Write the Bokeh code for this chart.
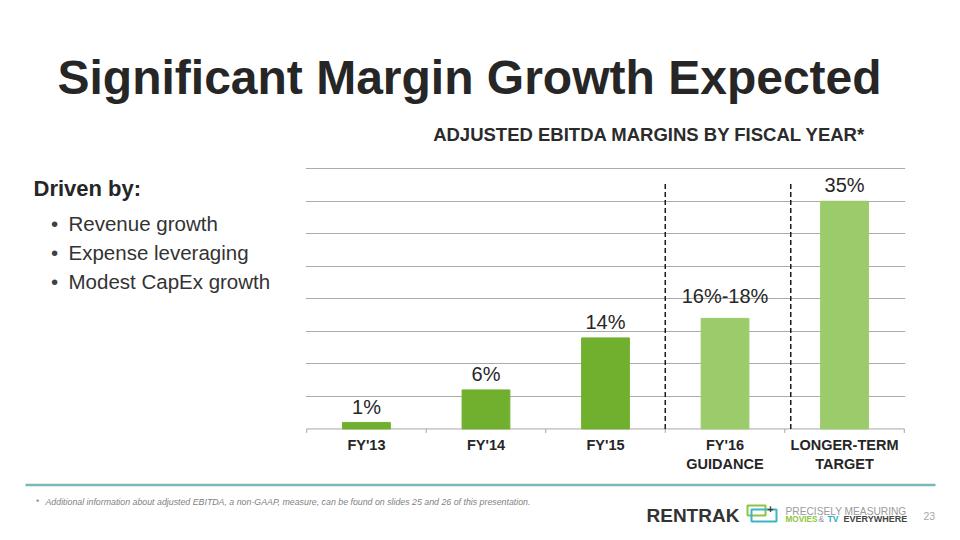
from bokeh.plotting import figure
from bokeh.layouts import column, row
from bokeh.models import (FactorRange, Range1d, CategoricalAxis, FixedTicker,
                          Grid, ColumnDataSource)
from bokeh.transform import dodge
from bokeh.core.properties import value
from bokeh.embed import file_html
from bokeh.resources import INLINE

# ---- data ----
categories = ["FY'13", "FY'14", "FY'15", "FY'16\nGUIDANCE", "LONGER-TERM\nTARGET"]
margin_low = [1, 6, 14, 16, 35]
margin_high = [1, 6, 14, 18, 35]
value_labels = ["1%", "6%", "14%", "16%-18%", "35%"]
is_actual = [True, True, True, False, False]
grid_ticks = [5, 10, 15, 20, 25, 30, 35, 40]
boundary_ticks = [0, 1, 2, 3, 4, 5]

title_text = "Significant Margin Growth Expected"
chart_title = "ADJUSTED EBITDA MARGINS BY FISCAL YEAR*"
drivers_head = "Driven by:"
drivers = ["Revenue growth", "Expense leveraging", "Modest CapEx growth"]
footnote = "Additional information about adjusted EBITDA, a non-GAAP, measure, can be found on slides 25 and 26 of this presentation."

DARK = "#71b02f"
LIGHT = "#9ccb6b"
TEXT = "#262626"
FONT = "Liberation Sans"

ROW_H = 330
CH_TOP, CH_BOT = 15, 47   # chart frame borders (the row aligns frames)


def blank(w, h, y_top=0, y_bot=None, b_top=0, b_bot=0):
    y_bot = h if y_bot is None else y_bot
    f = figure(width=w, height=h, output_backend="svg", toolbar_location=None,
               x_range=Range1d(0, w), y_range=Range1d(y_bot, y_top),
               x_axis_location=None, y_axis_location=None,
               min_border_left=0, min_border_right=0,
               min_border_top=b_top, min_border_bottom=b_bot)
    f.xgrid.visible = False
    f.ygrid.visible = False
    f.outline_line_color = None
    f.background_fill_color = "white"
    f.border_fill_color = "white"
    return f


def txt(f, text, x, y, size, style="normal", color=TEXT, align="left"):
    f.text(x=[x], y=[y], text=[text], text_font=value(FONT), text_font_size=size,
           text_font_style=style, text_color=color, text_align=align,
           text_baseline="middle")


# ---- top: slide title ----
top = blank(960, 150)
txt(top, title_text, 57, 77, "48px", "bold")
txt(top, chart_title, 649, 134, "18.5px", "bold", color="#2b2b2b", align="center")

# ---- left: drivers (frame aligned with chart frame in the row) ----
left = blank(298, ROW_H, y_top=CH_TOP, y_bot=ROW_H - CH_BOT, b_top=CH_TOP, b_bot=CH_BOT)
txt(left, drivers_head, 33, 38, "22px", "bold")
for i, d in enumerate(drivers):
    yc = 72.5 + 29 * i
    txt(left, "\u2022", 54, yc, "20.5px", color="#404040", align="center")
    txt(left, d, 68, yc, "20.5px", color="#333333")

# ---- chart ----
mid = [(a + b) / 2 for a, b in zip(margin_low, margin_high)]
colors = [DARK if a else LIGHT for a in is_actual]
src = ColumnDataSource(dict(cat=categories, top=mid, lab_y=margin_high,
                            lab=value_labels, color=colors))

p = figure(width=662, height=ROW_H, output_backend="svg", toolbar_location=None,
           x_range=FactorRange(*categories, range_padding=0.01,
                               range_padding_units="absolute"),
           y_range=Range1d(-0.7, 40.5),
           x_axis_location=None, y_axis_location=None,
           min_border_left=7, min_border_right=55, min_border_top=CH_TOP,
           min_border_bottom=CH_BOT)
p.outline_line_color = None
p.xgrid.visible = False
p.ygrid.visible = False
p.background_fill_color = "white"
p.border_fill_color = "white"

p.add_layout(Grid(dimension=1, ticker=FixedTicker(ticks=grid_ticks),
                  grid_line_color="#ababab", grid_line_width=1))

cat_axis = CategoricalAxis(axis_line_color=None, major_tick_line_color=None,
                           minor_tick_line_color=None, major_label_standoff=-3,
                           major_label_text_font=FONT, major_label_text_font_style="bold",
                           major_label_text_font_size="14.5px",
                           major_label_text_color=TEXT)
p.add_layout(cat_axis, "below")

# baseline with boundary ticks
p.segment(x0=[0], y0=[0], x1=[5], y1=[0], line_color="#a6a6a6", line_width=1)
p.segment(x0=boundary_ticks, y0=[0] * len(boundary_ticks), x1=boundary_ticks,
          y1=[-0.62] * len(boundary_ticks), line_color="#a6a6a6", line_width=1)

p.vbar(x="cat", top="top", width=0.4, color="color", source=src)
p.text(x="cat", y=dodge("lab_y", 2.45, range=p.y_range), text="lab", source=src,
       text_align="center", text_baseline="middle", text_font=value(FONT),
       text_font_size="20px", text_color=TEXT)

# dashed separators between actuals / guidance / target
p.segment(x0=[3, 4.05], y0=[0, 0], x1=[3, 4.05], y1=[37.7, 37.7],
          line_color="#1a1a1a", line_width=1.5, line_dash="5 3")

# ---- bottom: rule, footnote, logo ----
bot = blank(960, 60)
bot.segment(x0=[25], y0=[4.5], x1=[935], y1=[4.5], line_color="#7ab8b8", line_width=2.5)
txt(bot, "*", 35, 21.5, "9px", "italic", color="#7f7f7f")
txt(bot, footnote, 45, 21.5, "8.8px", "italic", color="#7f7f7f")
txt(bot, "RENTRAK", 646, 34.5, "19px", "bold", color="#333333")
bot.quad(left=[747], right=[765], top=[25], bottom=[35], fill_color=None,
         line_color="#8cc63e", line_width=2)
bot.quad(left=[751], right=[776], top=[29], bottom=[41], fill_color=None,
         line_color="#3bb4c4", line_width=2)
txt(bot, "+", 770, 28.5, "11px", "bold", color="#3a3a3a", align="center")
txt(bot, "PRECISELY MEASURING", 785, 30.7, "10.2px", color="#9a9a9a")
txt(bot, "MOVIES", 785, 38.7, "8.2px", "bold", color="#8cc63e")
txt(bot, "&", 818, 38.7, "8.5px", color="#9a9a9a")
txt(bot, "TV", 827, 38.7, "8.5px", "bold", color="#29abc2")
txt(bot, "EVERYWHERE", 843, 38.7, "9px", "bold", color="#444444")
txt(bot, "23", 923, 35.5, "10.5px", color="#a6a6a6")

layout = column(top, row(left, p, spacing=0), bot, spacing=0)
open("out.html", "w").write(file_html(layout, INLINE))
